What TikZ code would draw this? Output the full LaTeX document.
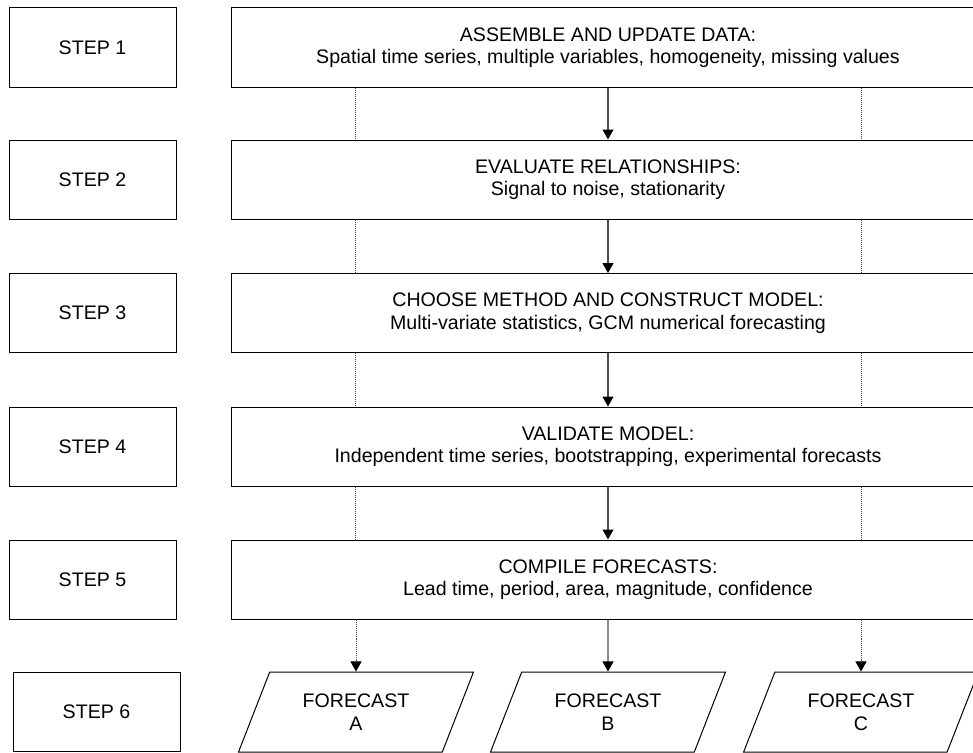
\documentclass[tikz,border=0pt]{standalone}
\usepackage{fontspec}
\setmainfont{Liberation Sans}
\usetikzlibrary{positioning,arrows.meta,shapes.geometric}

\begin{document}
\begin{tikzpicture}[x=1pt, y=-1pt, font=\fontsize{19.6}{22.6}\selectfont,
  stepbox/.style={draw, line width=1pt, minimum width=167pt, minimum height=79pt, inner sep=0pt},
  taskbox/.style={draw, line width=1pt, minimum width=754pt, minimum height=79pt, align=center, inner sep=0pt},
  outbox/.style={draw, line width=1pt, trapezium, trapezium left angle=62, trapezium right angle=118,
    trapezium stretches=true, minimum width=235pt, minimum height=80pt, align=center, inner sep=0pt},
  flow/.style={-{Triangle[width=11pt,length=10pt,black]}, line width=1.1pt, black!70},
  side/.style={densely dotted, line width=1pt, black!75}]
  \clip (0,0) rectangle (973,752);
  % step labels
  \foreach \i/\y in {1/47.5,2/179.5,3/313,4/446.5,5/579.5}
    \node[stepbox] (s\i) at (92.5,\y) {STEP \i};
  \node[stepbox] (s6) at (96.5,712) {STEP 6};
  % tasks
  \node[taskbox] (t1) at (608,47.5) {ASSEMBLE AND UPDATE DATA:\\Spatial time series, multiple variables, homogeneity, missing values};
  \node[taskbox] (t2) at (608,179.5) {EVALUATE RELATIONSHIPS:\\Signal to noise, stationarity};
  \node[taskbox] (t3) at (608,313) {CHOOSE METHOD AND CONSTRUCT MODEL:\\Multi-variate statistics, GCM numerical forecasting};
  \node[taskbox] (t4) at (608,446.5) {VALIDATE MODEL:\\Independent time series, bootstrapping, experimental forecasts};
  \node[taskbox] (t5) at (608,579.5) {COMPILE FORECASTS:\\Lead time, period, area, magnitude, confidence};
  % outputs
  \node[outbox] (fa) at (356,712) {FORECAST\\A};
  \node[outbox] (fb) at (608,712) {FORECAST\\B};
  \node[outbox] (fc) at (861,712) {FORECAST\\C};
  % connectors
  \foreach \i/\j in {1/2,2/3,3/4,4/5} {
    \draw[flow] (t\i) -- (t\j);
    \draw[side] ([xshift=-253pt]t\i.south) -- ([xshift=-253pt]t\j.north);
    \draw[side] ([xshift=253pt]t\i.south) -- ([xshift=253pt]t\j.north);
  }
  \draw[flow] (t5) -- (fb);
  \draw[flow, densely dotted, line width=1pt] (t5.south -| fa.north) -- (fa.north);
  \draw[flow, densely dotted, line width=1pt] (t5.south -| fc.north) -- (fc.north);
\end{tikzpicture}
\end{document}
